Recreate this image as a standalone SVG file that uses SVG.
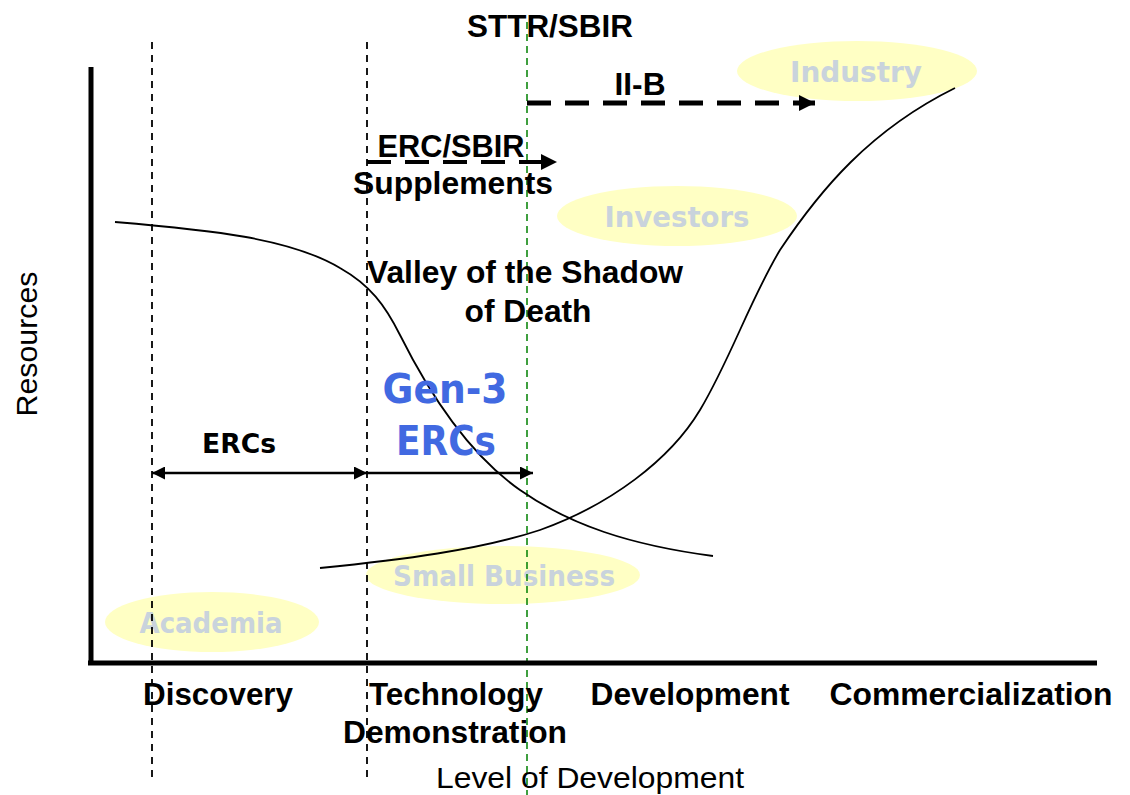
<svg xmlns="http://www.w3.org/2000/svg" width="1130" height="795" viewBox="0 0 1130 795">
<style>
.b{font-family:"Liberation Sans",Arial,sans-serif;font-weight:bold;font-size:32px;fill:#000;text-anchor:middle}
.r{font-family:"Liberation Sans",Arial,sans-serif;font-size:30px;fill:#000;text-anchor:middle}
.c{font-family:"DejaVu Sans","Noto Sans",sans-serif;font-weight:bold;text-anchor:middle}
.ell{fill:#ffffc4;stroke:none}
.et{font-family:"DejaVu Sans","Noto Sans",sans-serif;font-weight:bold;font-size:28px;fill:#c9d3dc;text-anchor:middle}
.vd{stroke:#000;stroke-width:1.8;stroke-dasharray:7,6;fill:none}
.crv{fill:none;stroke:#000;stroke-width:1.8}
</style>
<defs>
<marker id="ah" viewBox="0 0 10 10" refX="10" refY="5" markerWidth="16" markerHeight="13" markerUnits="userSpaceOnUse" orient="auto"><path d="M0,0 L10,5 L0,10 z" fill="#000"/></marker>
<marker id="ahs" viewBox="0 0 10 10" refX="0" refY="5" markerWidth="16" markerHeight="13" markerUnits="userSpaceOnUse" orient="auto"><path d="M10,0 L0,5 L10,10 z" fill="#000"/></marker>
<marker id="ahb" viewBox="0 0 10 10" refX="10" refY="5" markerWidth="17" markerHeight="16" markerUnits="userSpaceOnUse" orient="auto"><path d="M0,0 L10,5 L0,10 z" fill="#000"/></marker>
</defs>
<rect width="1130" height="795" fill="#fff"/>
<g id="industry"><ellipse class="ell" cx="857" cy="71" rx="120" ry="30"/><text class="et" x="856" y="82" textLength="132" lengthAdjust="spacingAndGlyphs">Industry</text></g>
<g id="investors"><ellipse class="ell" cx="677" cy="216" rx="120" ry="30"/><text class="et" x="677" y="227" textLength="145" lengthAdjust="spacingAndGlyphs">Investors</text></g>
<g id="small-business"><ellipse class="ell" cx="503" cy="575" rx="137" ry="29"/><text class="et" x="504" y="586" textLength="222" lengthAdjust="spacingAndGlyphs">Small Business</text></g>
<g id="academia"><ellipse class="ell" cx="212" cy="622" rx="107" ry="30"/><text class="et" x="211" y="633" textLength="143" lengthAdjust="spacingAndGlyphs">Academia</text></g>
<g id="connectors">
<line class="vd" x1="152" y1="42" x2="152" y2="780"/>
<line class="vd" x1="367" y1="42" x2="367" y2="780"/>
<line x1="527" y1="22" x2="527" y2="795" stroke="#008000" stroke-width="1.5" stroke-dasharray="7,5"/>
<line x1="91" y1="67" x2="91" y2="665" stroke="#000" stroke-width="5"/>
<line x1="88" y1="663" x2="1097" y2="663" stroke="#000" stroke-width="5"/>
<path class="crv" d="M115,222 C210,230 290,238 340,268 C370,285 385,305 400,335 C430,395 470,455 520,490 C570,525 630,545 713,556"/>
<path class="crv" d="M320,568 C400,560 480,550 540,530 C610,505 670,460 700,410 C730,360 750,300 780,250 C820,190 870,130 955,88"/>
<line x1="527" y1="103" x2="815" y2="103" stroke="#000" stroke-width="5" stroke-dasharray="24,14" marker-end="url(#ahb)"/>
<line x1="367" y1="162" x2="557" y2="162" stroke="#000" stroke-width="4" stroke-dasharray="24,14" marker-end="url(#ahb)"/>
<line x1="152" y1="473" x2="367" y2="473" stroke="#000" stroke-width="2.5" marker-start="url(#ahs)" marker-end="url(#ah)"/>
<line x1="367" y1="473" x2="533" y2="473" stroke="#000" stroke-width="2.5" marker-end="url(#ah)"/>
</g>
<g id="labels">
<text class="b" x="550" y="37" textLength="166" lengthAdjust="spacingAndGlyphs">STTR/SBIR</text>
<text class="b" x="640" y="95" textLength="51" lengthAdjust="spacingAndGlyphs">II-B</text>
<text class="b" x="451" y="157" textLength="147" lengthAdjust="spacingAndGlyphs">ERC/SBIR</text>
<text class="b" x="453" y="194" textLength="200" lengthAdjust="spacingAndGlyphs">Supplements</text>
<text class="b" x="525" y="283" textLength="316" lengthAdjust="spacingAndGlyphs">Valley of the Shadow</text>
<text class="b" x="528" y="322" textLength="127" lengthAdjust="spacingAndGlyphs">of Death</text>
<text class="c" x="445" y="403" font-size="40" fill="#4169e1" textLength="125" lengthAdjust="spacingAndGlyphs">Gen-3</text>
<text class="c" x="446" y="455" font-size="40" fill="#4169e1" textLength="100" lengthAdjust="spacingAndGlyphs">ERCs</text>
<text class="c" x="239" y="453" font-size="27" fill="#000" textLength="74" lengthAdjust="spacingAndGlyphs">ERCs</text>
<text class="b" x="218" y="705" textLength="150" lengthAdjust="spacingAndGlyphs">Discovery</text>
<text class="b" x="456" y="705" textLength="174" lengthAdjust="spacingAndGlyphs">Technology</text>
<text class="b" x="455" y="743" textLength="224" lengthAdjust="spacingAndGlyphs">Demonstration</text>
<text class="b" x="690" y="705" textLength="199" lengthAdjust="spacingAndGlyphs">Development</text>
<text class="b" x="971" y="705" textLength="283" lengthAdjust="spacingAndGlyphs">Commercialization</text>
<text class="r" x="590" y="788" textLength="308" lengthAdjust="spacingAndGlyphs">Level of Development</text>
<text class="r" x="0" y="0" transform="translate(37,344) rotate(-90)" textLength="145" lengthAdjust="spacingAndGlyphs">Resources</text>
</g>
</svg>
